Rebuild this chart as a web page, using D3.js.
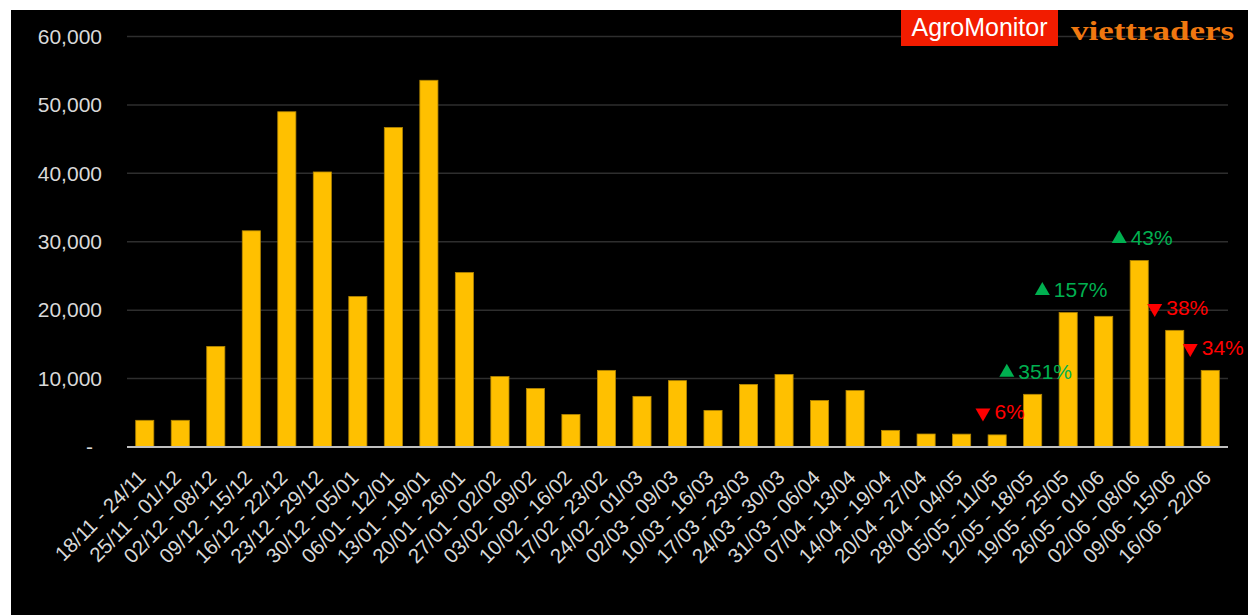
<!DOCTYPE html>
<html>
<head>
<meta charset="utf-8">
<script src="https://cdn.jsdelivr.net/npm/d3@7"></script>
<style>
  html, body { margin: 0; padding: 0; background: #ffffff; }
  svg { display: block; }
</style>
</head>
<body>
<svg id="chart" width="1248" height="615"></svg>
<script>
// ---- data ----
const categories = [
  "18/11 - 24/11", "25/11 - 01/12", "02/12 - 08/12", "09/12 - 15/12", "16/12 - 22/12",
  "23/12 - 29/12", "30/12 - 05/01", "06/01 - 12/01", "13/01 - 19/01", "20/01 - 26/01",
  "27/01 - 02/02", "03/02 - 09/02", "10/02 - 16/02", "17/02 - 23/02", "24/02 - 01/03",
  "02/03 - 09/03", "10/03 - 16/03", "17/03 - 23/03", "24/03 - 30/03", "31/03 - 06/04",
  "07/04 - 13/04", "14/04 - 19/04", "20/04 - 27/04", "28/04 - 04/05", "05/05 - 11/05",
  "12/05 - 18/05", "19/05 - 25/05", "26/05 - 01/06", "02/06 - 08/06", "09/06 - 15/06",
  "16/06 - 22/06"
];
const values = [
  3900, 3900, 14700, 31600, 49000,
  40200, 22000, 46700, 53600, 25500,
  10300, 8550, 4750, 11200, 7400,
  9700, 5350, 9150, 10600, 6800,
  8250, 2430, 1900, 1880, 1770,
  7700, 19650, 19100, 27250, 17050,
  11200
];
const yTicks = [0, 10000, 20000, 30000, 40000, 50000, 60000];
const changeCategories = ["05/05 - 11/05", "12/05 - 18/05", "19/05 - 25/05", "02/06 - 08/06", "09/06 - 15/06", "16/06 - 22/06"];
const changeLabels = ["6%", "351%", "157%", "43%", "38%", "34%"];
const changeUp = [false, true, true, true, false, false];

// ---- layout ----
const svg = d3.select("#chart");
const W = 1248, H = 615;
const plotLeft = 127, plotRight = 1228, plotTop = 36.5, plotBottom = 447;

svg.append("rect").attr("x", 11).attr("y", 10).attr("width", W - 11).attr("height", H - 10).attr("fill", "#000");

const x = d3.scaleBand().domain(categories).range([plotLeft, plotRight]).paddingInner(0.49).paddingOuter(0.245);
const y = d3.scaleLinear().domain([0, 60000]).range([plotBottom, plotTop]);

// gridlines
svg.append("g").selectAll("line").data(yTicks.filter(d => d > 0)).join("line")
  .attr("x1", plotLeft).attr("x2", plotRight)
  .attr("y1", d => y(d)).attr("y2", d => y(d))
  .attr("stroke", "#2e2e2e").attr("stroke-width", 1.5);

// y axis labels
const yAxis = d3.axisLeft(y).tickValues(yTicks).tickSize(0).tickPadding(0)
  .tickFormat(d => d === 0 ? "-" : d3.format(",")(d));
const gy = svg.append("g").attr("transform", `translate(102,0)`).call(yAxis);
gy.select(".domain").remove();
gy.selectAll("text").attr("fill", "#d9d9d9").style("font-family", "'Liberation Sans', Arial, sans-serif").style("font-size", "21px");
gy.selectAll(".tick").filter(d => d === 0).select("text").attr("dx", -9);

// bars
svg.append("g").selectAll("rect").data(values).join("rect")
  .attr("x", (d, i) => x(categories[i]))
  .attr("y", d => y(d))
  .attr("width", x.bandwidth())
  .attr("height", d => y(0) - y(d))
  .attr("fill", "#ffc000")
  .attr("stroke", "#b38600").attr("stroke-width", 0.8);

// baseline
svg.append("line").attr("x1", plotLeft).attr("x2", plotRight).attr("y1", plotBottom).attr("y2", plotBottom)
  .attr("stroke", "#bfbfbf").attr("stroke-width", 2);

// x labels
const xAxis = d3.axisBottom(x).tickSize(0).tickPadding(0);
const gx = svg.append("g").attr("transform", `translate(0,${plotBottom})`).call(xAxis);
gx.select(".domain").remove();
gx.selectAll("text")
  .attr("fill", "#d9d9d9")
  .style("font-family", "'Liberation Sans', Arial, sans-serif").style("font-size", "20.5px")
  .attr("text-anchor", "end").attr("dy", null).attr("y", 0)
  .attr("transform", "translate(2,32) rotate(-45)");

// change annotations: triangle marker + percentage text
const ann = svg.append("g").selectAll("g").data(changeLabels).join("g");
ann.each(function(d, i) {
  const g = d3.select(this);
  const cat = changeCategories[i];
  const cx = x(cat) + x.bandwidth() / 2 + 3;
  const cy = y(values[categories.indexOf(cat)]) - 23;
  const color = changeUp[i] ? "#00b050" : "#ff0000";
  const t = g.append("text")
    .attr("y", cy).attr("dominant-baseline", "central")
    .attr("fill", color)
    .style("font-family", "'Liberation Sans', Arial, sans-serif").style("font-size", "21px")
    .text(d);
  const tw = t.node().getComputedTextLength();
  const total = 15 + 4 + tw;
  const x0 = cx - total / 2;
  t.attr("x", x0 + 19);
  g.append("path")
    .attr("d", d3.symbol(d3.symbolTriangle, 97)())
    .attr("transform", `translate(${x0 + 7.5},${cy + 1}) rotate(${changeUp[i] ? 0 : 180})`)
    .attr("fill", color);
});

// logos
svg.append("rect").attr("x", 901).attr("y", 10).attr("width", 157).attr("height", 36).attr("fill", "#f21c00");
svg.append("text").attr("x", 979.5).attr("y", 36).attr("text-anchor", "middle")
  .attr("fill", "#ffffff").style("font-family", "'Liberation Sans', Arial, sans-serif").style("font-size", "25px")
  .attr("textLength", 136).attr("lengthAdjust", "spacingAndGlyphs")
  .text("AgroMonitor");
svg.append("text").attr("x", 1071).attr("y", 40)
  .attr("fill", "#f07810").style("font-family", "'Liberation Serif', 'Times New Roman', serif").style("font-size", "28px").style("font-weight", "bold")
  .attr("textLength", 163).attr("lengthAdjust", "spacingAndGlyphs")
  .text("viettraders");
</script>
</body>
</html>
